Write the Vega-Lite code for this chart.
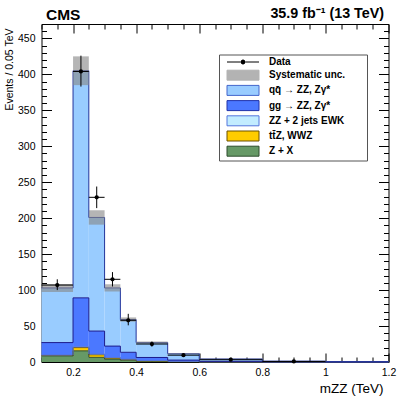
{
  "$schema": "https://vega.github.io/schema/vega-lite/v6.json",
  "width": 347,
  "height": 338,
  "autosize": {"type": "none"},
  "padding": {"left": 41.5, "top": 24, "right": 10.5, "bottom": 38},
  "background": "white",
  "config": {"font": "Liberation Sans", "view": {"stroke": null}, "axis": {"grid": false}},
  "title": {"text": "CMS", "anchor": "start", "frame": "group", "fontSize": 15.5, "fontWeight": "bold", "font": "Liberation Sans", "color": "black", "offset": -29, "dx": 4.5, "baseline": "alphabetic"},
  "datasets": {
    "mc": [
      {"lo": 0.1, "hi": 0.2, "proc": "Z + X", "v": 8.5},
      {"lo": 0.1, "hi": 0.2, "proc": "tt\u0304Z, WWZ", "v": 0.6},
      {"lo": 0.1, "hi": 0.2, "proc": "ZZ + 2 jets EWK", "v": 0.6},
      {"lo": 0.1, "hi": 0.2, "proc": "gg \u2192 ZZ, Z\u03b3*", "v": 17.3},
      {"lo": 0.1, "hi": 0.2, "proc": "qq\u0304 \u2192 ZZ, Z\u03b3*", "v": 76},
      {"lo": 0.2, "hi": 0.25, "proc": "Z + X", "v": 15.5},
      {"lo": 0.2, "hi": 0.25, "proc": "tt\u0304Z, WWZ", "v": 4.5},
      {"lo": 0.2, "hi": 0.25, "proc": "ZZ + 2 jets EWK", "v": 1.2},
      {"lo": 0.2, "hi": 0.25, "proc": "gg \u2192 ZZ, Z\u03b3*", "v": 68},
      {"lo": 0.2, "hi": 0.25, "proc": "qq\u0304 \u2192 ZZ, Z\u03b3*", "v": 315.8},
      {"lo": 0.25, "hi": 0.3, "proc": "Z + X", "v": 6.5},
      {"lo": 0.25, "hi": 0.3, "proc": "tt\u0304Z, WWZ", "v": 3.5},
      {"lo": 0.25, "hi": 0.3, "proc": "ZZ + 2 jets EWK", "v": 1.0},
      {"lo": 0.25, "hi": 0.3, "proc": "gg \u2192 ZZ, Z\u03b3*", "v": 32},
      {"lo": 0.25, "hi": 0.3, "proc": "qq\u0304 \u2192 ZZ, Z\u03b3*", "v": 158},
      {"lo": 0.3, "hi": 0.35, "proc": "Z + X", "v": 4},
      {"lo": 0.3, "hi": 0.35, "proc": "tt\u0304Z, WWZ", "v": 1.5},
      {"lo": 0.3, "hi": 0.35, "proc": "ZZ + 2 jets EWK", "v": 0.6},
      {"lo": 0.3, "hi": 0.35, "proc": "gg \u2192 ZZ, Z\u03b3*", "v": 16},
      {"lo": 0.3, "hi": 0.35, "proc": "qq\u0304 \u2192 ZZ, Z\u03b3*", "v": 80.9},
      {"lo": 0.35, "hi": 0.4, "proc": "Z + X", "v": 2.5},
      {"lo": 0.35, "hi": 0.4, "proc": "tt\u0304Z, WWZ", "v": 1},
      {"lo": 0.35, "hi": 0.4, "proc": "ZZ + 2 jets EWK", "v": 0.5},
      {"lo": 0.35, "hi": 0.4, "proc": "gg \u2192 ZZ, Z\u03b3*", "v": 9.5},
      {"lo": 0.35, "hi": 0.4, "proc": "qq\u0304 \u2192 ZZ, Z\u03b3*", "v": 45.5},
      {"lo": 0.4, "hi": 0.5, "proc": "Z + X", "v": 1.2},
      {"lo": 0.4, "hi": 0.5, "proc": "tt\u0304Z, WWZ", "v": 0.4},
      {"lo": 0.4, "hi": 0.5, "proc": "ZZ + 2 jets EWK", "v": 0.5},
      {"lo": 0.4, "hi": 0.5, "proc": "gg \u2192 ZZ, Z\u03b3*", "v": 4.2},
      {"lo": 0.4, "hi": 0.5, "proc": "qq\u0304 \u2192 ZZ, Z\u03b3*", "v": 20.7},
      {"lo": 0.5, "hi": 0.6, "proc": "Z + X", "v": 0.4},
      {"lo": 0.5, "hi": 0.6, "proc": "tt\u0304Z, WWZ", "v": 0.15},
      {"lo": 0.5, "hi": 0.6, "proc": "ZZ + 2 jets EWK", "v": 0.3},
      {"lo": 0.5, "hi": 0.6, "proc": "gg \u2192 ZZ, Z\u03b3*", "v": 1.8},
      {"lo": 0.5, "hi": 0.6, "proc": "qq\u0304 \u2192 ZZ, Z\u03b3*", "v": 8.85},
      {"lo": 0.6, "hi": 0.8, "proc": "Z + X", "v": 0.1},
      {"lo": 0.6, "hi": 0.8, "proc": "tt\u0304Z, WWZ", "v": 0.05},
      {"lo": 0.6, "hi": 0.8, "proc": "ZZ + 2 jets EWK", "v": 0.15},
      {"lo": 0.6, "hi": 0.8, "proc": "gg \u2192 ZZ, Z\u03b3*", "v": 0.6},
      {"lo": 0.6, "hi": 0.8, "proc": "qq\u0304 \u2192 ZZ, Z\u03b3*", "v": 3.3},
      {"lo": 0.8, "hi": 1.0, "proc": "Z + X", "v": 0.02},
      {"lo": 0.8, "hi": 1.0, "proc": "tt\u0304Z, WWZ", "v": 0.02},
      {"lo": 0.8, "hi": 1.0, "proc": "ZZ + 2 jets EWK", "v": 0.06},
      {"lo": 0.8, "hi": 1.0, "proc": "gg \u2192 ZZ, Z\u03b3*", "v": 0.15},
      {"lo": 0.8, "hi": 1.0, "proc": "qq\u0304 \u2192 ZZ, Z\u03b3*", "v": 0.95},
      {"lo": 1.0, "hi": 1.2, "proc": "Z + X", "v": 0.01},
      {"lo": 1.0, "hi": 1.2, "proc": "tt\u0304Z, WWZ", "v": 0.01},
      {"lo": 1.0, "hi": 1.2, "proc": "ZZ + 2 jets EWK", "v": 0.03},
      {"lo": 1.0, "hi": 1.2, "proc": "gg \u2192 ZZ, Z\u03b3*", "v": 0.05},
      {"lo": 1.0, "hi": 1.2, "proc": "qq\u0304 \u2192 ZZ, Z\u03b3*", "v": 0.35}
    ],
    "sys": [
      {"lo": 0.1, "hi": 0.2, "slo": 97.5, "shi": 108.5},
      {"lo": 0.2, "hi": 0.25, "slo": 385, "shi": 425},
      {"lo": 0.25, "hi": 0.3, "slo": 191, "shi": 211},
      {"lo": 0.3, "hi": 0.35, "slo": 98, "shi": 108},
      {"lo": 0.35, "hi": 0.4, "slo": 56, "shi": 62},
      {"lo": 0.4, "hi": 0.5, "slo": 25.5, "shi": 28.5},
      {"lo": 0.5, "hi": 0.6, "slo": 10.8, "shi": 12.2},
      {"lo": 0.6, "hi": 0.8, "slo": 3.9, "shi": 4.5},
      {"lo": 0.8, "hi": 1.0, "slo": 1.05, "shi": 1.35},
      {"lo": 1.0, "hi": 1.2, "slo": 0.38, "shi": 0.52}
    ],
    "obs": [
      {"c": 0.15, "lo": 0.1, "hi": 0.2, "n": 107, "elo": 100, "ehi": 115},
      {"c": 0.225, "lo": 0.2, "hi": 0.25, "n": 404, "elo": 383, "ehi": 426},
      {"c": 0.275, "lo": 0.25, "hi": 0.3, "n": 229, "elo": 214, "ehi": 244},
      {"c": 0.325, "lo": 0.3, "hi": 0.35, "n": 115, "elo": 105, "ehi": 125},
      {"c": 0.375, "lo": 0.35, "hi": 0.4, "n": 58, "elo": 51, "ehi": 67},
      {"c": 0.45, "lo": 0.4, "hi": 0.5, "n": 25, "elo": 21.5, "ehi": 28.5},
      {"c": 0.55, "lo": 0.5, "hi": 0.6, "n": 9.5, "elo": 7.3, "ehi": 11.7},
      {"c": 0.7, "lo": 0.6, "hi": 0.8, "n": 3.2, "elo": 2.3, "ehi": 4.1},
      {"c": 0.9, "lo": 0.8, "hi": 1.0, "n": 0.75, "elo": 0.35, "ehi": 1.2}
    ]
  },
  "layer": [
    {
      "data": {"name": "mc"},
      "transform": [{"stack": "v", "groupby": ["lo"], "as": ["y0", "y1"]}],
      "mark": {"type": "bar"},
      "encoding": {
        "x": {"field": "lo", "type": "quantitative",
          "scale": {"domain": [0.1, 1.2], "nice": false, "zero": false},
          "axis": {"orient": "bottom",
            "values": [0.1, 0.15, 0.2, 0.25, 0.3, 0.35, 0.4, 0.45, 0.5, 0.55, 0.6, 0.65, 0.7, 0.75, 0.8, 0.85, 0.9, 0.95, 1.0, 1.05, 1.1, 1.15, 1.2],
            "tickSize": {"condition": {"test": "round(datum.value*100) % 20 === 0", "value": -9}, "value": -5},
            "tickColor": "black", "tickWidth": 1, "domainColor": "black", "domainWidth": 1,
            "labelExpr": "round(datum.value*100) % 20 === 0 ? format(datum.value, '~g') : ''",
            "labelFont": "Liberation Sans", "labelFontSize": 10.5, "labelColor": "black", "labelPadding": 14,
            "labelOverlap": false, "labelFlush": false,
            "title": "mZZ (TeV)", "titleFont": "Liberation Sans", "titleFontSize": 13.5, "titleFontWeight": "normal", "titleColor": "black",
            "titleAnchor": "end", "titleAlign": "right", "titleBaseline": "alphabetic", "titleX": 341.5, "titleY": 30}},
        "x2": {"field": "hi"},
        "y": {"field": "y0", "type": "quantitative",
          "scale": {"domain": [0, 470], "nice": false, "zero": true},
          "axis": {"orient": "left",
            "values": [0, 10, 20, 30, 40, 50, 60, 70, 80, 90, 100, 110, 120, 130, 140, 150, 160, 170, 180, 190, 200, 210, 220, 230, 240, 250, 260, 270, 280, 290, 300, 310, 320, 330, 340, 350, 360, 370, 380, 390, 400, 410, 420, 430, 440, 450, 460, 470],
            "tickSize": {"condition": {"test": "datum.value % 50 === 0", "value": -10}, "value": -5},
            "tickColor": "black", "tickWidth": 1, "domainColor": "black", "domainWidth": 1,
            "labelExpr": "datum.value % 50 === 0 ? datum.label : ''",
            "labelFont": "Liberation Sans", "labelFontSize": 10.5, "labelColor": "black", "labelPadding": 16.5,
            "labelOverlap": false, "labelFlush": false,
            "title": "Events / 0.05 TeV", "titleFont": "Liberation Sans", "titleFontSize": 10.5, "titleFontWeight": "normal", "titleColor": "black",
            "titleAnchor": "end", "titleAlign": "right", "titleBaseline": "alphabetic", "titleX": -29.5, "titleY": 4, "titleAngle": -90}},
        "y2": {"field": "y1"},
        "fill": {"field": "proc", "type": "nominal",
          "scale": {"domain": ["Data", "Systematic unc.", "qq\u0304 \u2192 ZZ, Z\u03b3*", "gg \u2192 ZZ, Z\u03b3*", "ZZ + 2 jets EWK", "tt\u0304Z, WWZ", "Z + X"],
                    "range": ["#000000", "#b3b3b3", "#99ccff", "#4b78ff", "#c2ecff", "#ffcc00", "#669966"]},
          "legend": {"orient": "none", "legendX": 177.5, "legendY": 30.5,
            "title": " ", "titleOrient": "right", "titlePadding": 20, "titleFontSize": 10,
            "fillColor": "white", "strokeColor": "#555555", "padding": 2,
            "symbolSize": 100, "symbolOffset": 16.5, "labelOffset": 20.5,
            "labelFont": "Liberation Sans", "labelFontSize": 10, "labelFontWeight": "bold", "labelColor": "black",
            "labelLimit": 300, "rowPadding": 0.2,
            "encode": {"symbols": {"update": {
              "shape": [{"test": "datum.index === 0", "value": "M-3.2,0H3.2M0,-0.55V0.55M-0.3,-0.3H0.3V0.3H-0.3Z"}, {"value": "M-3.2,-1H3.2V1H-3.2Z"}],
              "stroke": [{"test": "datum.index === 0", "value": "#000000"}, {"test": "datum.index === 1", "value": "#b3b3b3"}, {"test": "datum.index === 2", "value": "#4466cc"}, {"test": "datum.index === 3", "value": "#2233aa"}, {"test": "datum.index === 4", "value": "#5577dd"}, {"test": "datum.index === 5", "value": "#6b5000"}, {"value": "#2e4d2e"}],
              "strokeWidth": {"value": 1},
              "opacity": {"value": 1},
              "fillOpacity": {"value": 1}
            }}}}}
      }
    },
    {
      "data": {"name": "mc"},
      "transform": [{"stack": "v", "groupby": ["lo"], "as": ["y0", "y1"]}],
      "mark": {"type": "rule", "strokeWidth": 1},
      "encoding": {
        "x": {"field": "lo", "type": "quantitative", "axis": null},
        "x2": {"field": "hi"},
        "y": {"field": "y1", "type": "quantitative", "axis": null},
        "stroke": {"field": "proc", "type": "nominal",
          "scale": {"domain": ["Z + X", "tt\u0304Z, WWZ", "ZZ + 2 jets EWK", "gg \u2192 ZZ, Z\u03b3*", "qq\u0304 \u2192 ZZ, Z\u03b3*"],
                    "range": ["#2e4d2e", "#6b5000", "#5577dd", "#1a1a8c", "#22339c"]},
          "legend": null}
      }
    },
    {
      "data": {"name": "mc"},
      "transform": [
        {"stack": "v", "groupby": ["lo"], "as": ["y0", "y1"]},
        {"window": [{"op": "lag", "field": "y1", "as": "prev"}], "groupby": ["proc"], "sort": [{"field": "lo", "order": "ascending"}]},
        {"filter": "datum.prev != null"}
      ],
      "mark": {"type": "rule", "strokeWidth": 1},
      "encoding": {
        "x": {"field": "lo", "type": "quantitative", "axis": null},
        "y": {"field": "prev", "type": "quantitative", "axis": null},
        "y2": {"field": "y1"},
        "stroke": {"field": "proc", "type": "nominal",
          "scale": {"domain": ["Z + X", "tt\u0304Z, WWZ", "ZZ + 2 jets EWK", "gg \u2192 ZZ, Z\u03b3*", "qq\u0304 \u2192 ZZ, Z\u03b3*"],
                    "range": ["#2e4d2e", "#6b5000", "#5577dd", "#1a1a8c", "#22339c"]},
          "legend": null}
      }
    },
    {
      "data": {"name": "sys"},
      "mark": {"type": "bar", "fill": "#888888", "opacity": 0.62},
      "encoding": {
        "x": {"field": "lo", "type": "quantitative",
          "axis": {"orient": "top",
            "values": [0.1, 0.15, 0.2, 0.25, 0.3, 0.35, 0.4, 0.45, 0.5, 0.55, 0.6, 0.65, 0.7, 0.75, 0.8, 0.85, 0.9, 0.95, 1.0, 1.05, 1.1, 1.15, 1.2],
            "tickSize": {"condition": {"test": "round(datum.value*100) % 20 === 0", "value": -9}, "value": -5},
            "tickColor": "black", "tickWidth": 1, "domainColor": "black", "domainWidth": 1,
            "labels": false,
            "title": "35.9 fb\u207b\u00b9 (13 TeV)", "titleFont": "Liberation Sans", "titleFontSize": 14.3, "titleFontWeight": "bold", "titleColor": "black",
            "titleAnchor": "end", "titleAlign": "right", "titleBaseline": "alphabetic", "titleX": 342, "titleY": -7}},
        "x2": {"field": "hi"},
        "y": {"field": "slo", "type": "quantitative",
          "axis": {"orient": "right",
            "values": [0, 10, 20, 30, 40, 50, 60, 70, 80, 90, 100, 110, 120, 130, 140, 150, 160, 170, 180, 190, 200, 210, 220, 230, 240, 250, 260, 270, 280, 290, 300, 310, 320, 330, 340, 350, 360, 370, 380, 390, 400, 410, 420, 430, 440, 450, 460, 470],
            "tickSize": {"condition": {"test": "datum.value % 50 === 0", "value": -10}, "value": -5},
            "tickColor": "black", "tickWidth": 1, "domainColor": "black", "domainWidth": 1,
            "labels": false, "title": null}},
        "y2": {"field": "shi"}
      }
    },
    {
      "data": {"name": "obs"},
      "mark": {"type": "rule", "color": "black", "strokeWidth": 1},
      "encoding": {
        "x": {"field": "lo", "type": "quantitative", "axis": null},
        "x2": {"field": "hi"},
        "y": {"field": "n", "type": "quantitative", "axis": null}
      }
    },
    {
      "data": {"name": "obs"},
      "mark": {"type": "rule", "color": "black", "strokeWidth": 1},
      "encoding": {
        "x": {"field": "c", "type": "quantitative", "axis": null},
        "y": {"field": "elo", "type": "quantitative", "axis": null},
        "y2": {"field": "ehi"}
      }
    },
    {
      "data": {"name": "obs"},
      "mark": {"type": "point", "filled": true, "color": "black", "size": 18, "shape": "circle", "opacity": 1},
      "encoding": {
        "x": {"field": "c", "type": "quantitative", "axis": null},
        "y": {"field": "n", "type": "quantitative", "axis": null}
      }
    }
  ],
  "resolve": {"axis": {"x": "independent", "y": "independent"}}
}
